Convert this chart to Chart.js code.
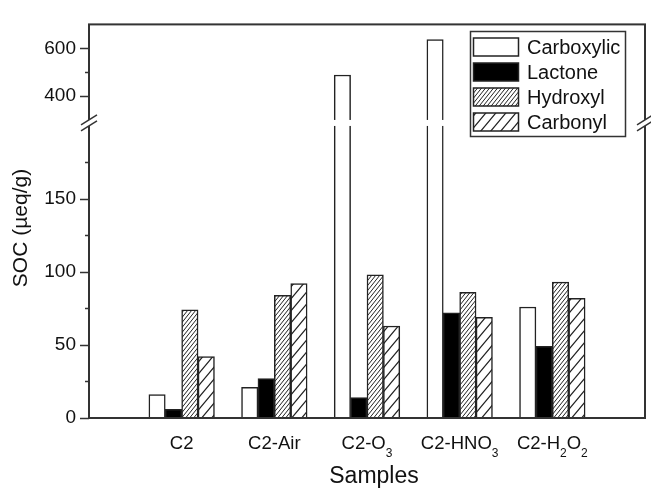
<!DOCTYPE html>
<html>
<head>
<meta charset="utf-8">
<script src="https://cdn.jsdelivr.net/npm/chart.js@4.4.1/dist/chart.umd.min.js"></script>
<style>
  html, body { margin: 0; padding: 0; background: #fff; }
</style>
</head>
<body>
<canvas id="myChart" width="651" height="489"></canvas>
<script>
// sample names, "_x" marks a subscript character
const samples = ['C2', 'C2-Air', 'C2-O_3', 'C2-HNO_3', 'C2-H_2O_2'];
const seriesNames = ['Carboxylic', 'Lactone', 'Hydroxyl', 'Carbonyl'];
const carboxylic = [16, 21, 488, 636, 76];
const lactone = [6, 27, 14, 72, 49];
const hydroxyl = [74, 84, 98, 86, 93];
const carbonyl = [42, 92, 63, 69, 82];
const yMajorTicks = [0, 50, 100, 150, 400, 600];
const yMinorTicks = [25, 75, 125, 175, 500];
const yBreak = [200, 300]; // axis is cut between these two values
const yMax = 700;

const FONT = "'Liberation Sans', Arial, sans-serif";
const ctx = document.getElementById('myChart').getContext('2d');

// diagonal hatch pattern, w = horizontal spacing, h = rise per tile
function hatch(w, h, lw) {
    const c = document.createElement('canvas');
    c.width = w; c.height = h;
    const g = c.getContext('2d');
    g.fillStyle = '#fff';
    g.fillRect(0, 0, w, h);
    g.strokeStyle = '#222';
    g.lineWidth = lw;
    g.beginPath();
    for (let k = -1; k <= 1; k++) {
        g.moveTo(-w, 2 * h + k * h);
        g.lineTo(2 * w, -h + k * h);
    }
    g.stroke();
    return ctx.createPattern(c, 'repeat');
}

const fills = ['#ffffff', '#000000', hatch(4, 5, 1), hatch(10, 12, 1.2)];

// linear scale with a cut between yBreak[0] and yBreak[1]
class BrokenScale extends Chart.LinearScale {
    buildTicks() {
        return yMajorTicks.concat(yMinorTicks).sort((a, b) => a - b).map(v => ({ value: v }));
    }
    getPixelForValue(v) {
        const h = this.bottom - this.top;
        const lowH = h * 0.742, gap = 6, upH = h - lowH - gap;
        if (v <= yBreak[0]) return this.bottom - v / yBreak[0] * lowH;
        if (v >= yBreak[1]) return this.bottom - lowH - gap - (v - yBreak[1]) / (yMax - yBreak[1]) * upH;
        return this.bottom - lowH - (v - yBreak[0]) / (yBreak[1] - yBreak[0]) * gap;
    }
    getValueForPixel(p) {
        return 0;
    }
}
BrokenScale.id = 'broken';
BrokenScale.defaults = Chart.LinearScale.defaults;
Chart.register(BrokenScale);

// draw a label with "_x" subscripts centred at x
function drawSubText(c, text, x, y, size) {
    const parts = [];
    for (let i = 0; i < text.length; i++) {
        if (text[i] === '_' && i + 1 < text.length) { parts.push({ t: text[i + 1], sub: true }); i++; }
        else parts.push({ t: text[i], sub: false });
    }
    const subSize = Math.round(size * 0.65);
    let total = 0;
    for (const p of parts) {
        c.font = (p.sub ? subSize : size) + 'px ' + FONT;
        p.w = c.measureText(p.t).width;
        total += p.w;
    }
    let cx = x - total / 2;
    c.textAlign = 'left';
    c.textBaseline = 'alphabetic';
    for (const p of parts) {
        c.font = (p.sub ? subSize : size) + 'px ' + FONT;
        c.fillText(p.t, cx, p.sub ? y + 8 : y);
        cx += p.w;
    }
}

const decor = {
    id: 'decor',
    afterDatasetsDraw(chart) {
        const c = chart.ctx, a = chart.chartArea, y = chart.scales.y, x = chart.scales.x;
        const yLo = y.getPixelForValue(yBreak[0]);
        const yHi = y.getPixelForValue(yBreak[1]);
        c.save();
        // frame
        c.strokeStyle = '#333';
        c.lineWidth = 2;
        c.strokeRect(a.left, a.top, a.right - a.left, a.bottom - a.top);
        // cut through bars and axes
        c.fillStyle = '#fff';
        c.fillRect(a.left - 3, yHi, a.right - a.left + 6, yLo - yHi);
        // break marks
        c.lineWidth = 1.5;
        for (const x0 of [a.left, a.right]) {
            for (const yy of [yHi, yLo]) {
                c.beginPath();
                c.moveTo(x0 - 8, yy + 5);
                c.lineTo(x0 + 8, yy - 5);
                c.stroke();
            }
        }
        // y tick marks
        c.lineWidth = 1.5;
        for (const v of yMajorTicks.concat(yMinorTicks)) {
            const py = Math.round(y.getPixelForValue(v)) + 0.5;
            const len = yMajorTicks.includes(v) ? 9 : 4;
            c.beginPath();
            c.moveTo(a.left - len, py);
            c.lineTo(a.left, py);
            c.stroke();
        }
        // x labels
        c.fillStyle = '#111';
        samples.forEach((s, i) => drawSubText(c, s, x.getPixelForTick(i + 1), 449, 18.5));
        // axis titles
        c.font = '23px ' + FONT;
        c.textAlign = 'center';
        c.textBaseline = 'middle';
        c.fillText('Samples', 374, 477);
        c.save();
        c.translate(21, 228);
        c.rotate(-Math.PI / 2);
        c.font = '21px ' + FONT;
        c.fillText('SOC (\u00b5eq/g)', 0, 0);
        c.restore();
        // legend
        c.lineWidth = 1.5;
        c.strokeStyle = '#333';
        c.strokeRect(470.5, 31.5, 155, 105);
        chart.data.datasets.forEach((ds, i) => {
            const top = 38 + i * 25;
            c.fillStyle = ds.backgroundColor;
            c.fillRect(473.5, top, 45, 18);
            c.strokeStyle = '#222';
            c.strokeRect(473.5, top, 45, 18);
            c.fillStyle = '#111';
            c.font = '20px ' + FONT;
            c.textAlign = 'left';
            c.textBaseline = 'middle';
            c.fillText(ds.label, 527, top + 10);
        });
        c.restore();
    }
};

const series = [carboxylic, lactone, hydroxyl, carbonyl];

const myChart = new Chart(ctx, {
    type: 'bar',
    data: {
        labels: [''].concat(samples, ['']),
        datasets: series.map((vals, i) => ({
            label: seriesNames[i],
            data: [null].concat(vals, [null]),
            backgroundColor: fills[i],
            borderColor: '#222',
            borderWidth: 1.5,
            barThickness: 16.4
        }))
    },
    options: {
        responsive: false,
        animation: false,
        events: [],
        layout: { padding: { top: 8, right: 6, left: 0, bottom: 0 } },
        plugins: {
            legend: { display: false },
            tooltip: { enabled: false }
        },
        scales: {
            x: {
                type: 'category',
                offset: false,
                grid: { display: false },
                border: { display: false },
                ticks: { display: false },
                afterFit: s => { s.height = 71; }
            },
            y: {
                type: 'broken',
                min: 0,
                max: yMax,
                grid: { display: false, drawTicks: false },
                border: { display: false },
                ticks: {
                    autoSkip: false,
                    padding: 13,
                    color: '#111',
                    font: { family: FONT, size: 19 },
                    callback: v => yMajorTicks.includes(v) ? String(v) : ''
                },
                afterFit: s => { s.width = 89; }
            }
        }
    },
    plugins: [decor]
});
</script>
</body>
</html>
